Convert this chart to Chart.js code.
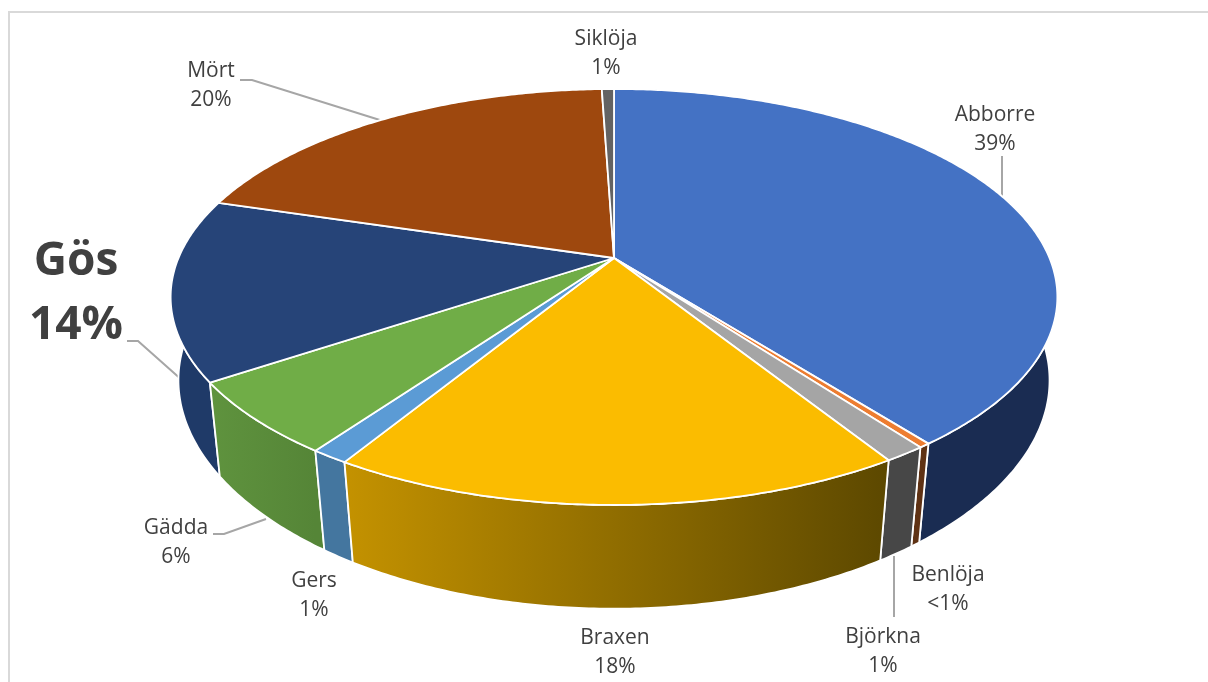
<!DOCTYPE html>
<html>
<head>
<meta charset="utf-8">
<script src="https://cdn.jsdelivr.net/npm/chart.js@4"></script>
<style>
  html, body { margin: 0; padding: 0; background: #fff; }
  #box { position: absolute; left: 8px; top: 11px; width: 1200px; height: 671px; border-left: 2px solid #d9d9d9; border-top: 2px solid #d9d9d9; box-sizing: border-box; }
  canvas { position: absolute; left: 0; top: 0; }
</style>
</head>
<body>
<div id="box"></div>
<canvas id="fishChart" width="1208" height="682"></canvas>
<script>
const categories = ['Abborre', 'Benlöja', 'Björkna', 'Braxen', 'Gers', 'Gädda', 'Gös', 'Mört', 'Siklöja'];
const shares = [39.46, 0.35, 1.3, 17.6, 1.17, 5.75, 14.06, 19.8, 0.53];
const percentLabels = ['39%', '<1%', '1%', '18%', '1%', '6%', '14%', '20%', '1%'];

const topColors = ['#4472c4', '#ed7d31', '#a5a5a5', '#fbbc00', '#5b9bd5', '#70ad47', '#264478', '#9e480e', '#636363'];
const wallLeft = ['#1a2c52', '#5f3214', '#474747', '#c49200', '#44769f', '#5f933e', '#1f3a68', '#5f2b08', '#3b3b3b'];
const wallRight = ['#1a2c52', '#5f3214', '#474747', '#5c4800', '#44769f', '#558537', '#1f3a68', '#5f2b08', '#3b3b3b'];

// label centres, first line y and line height
const labelLayout = [
  [995, 115, 29], [948, 575, 29], [883, 637, 29], [615, 638, 29], [314, 581, 29],
  [176, 528, 29], [76, 262, 64], [211, 71, 29], [606, 39, 29]
];
const leaderLines = [
  [[1002, 156], [1002, 197]],
  [[894, 556], [894, 617]],
  [[127, 341], [138, 341], [183, 381]],
  [[213, 534], [224, 534], [266, 519]],
  [[240, 80], [252, 80], [383, 121]]
];

// perspective of the top face, apex of the slices at cx, cy
const cx = 614, cy = 258, kv = -0.1875, ax = 435.5, ay = 152.3;

function topPoint(a) {
  const u = Math.cos(a), v = Math.sin(a), d = 1 + kv * v;
  return [cx + ax * u / d, (ay * v + cy) / d];
}
function bottomPoint(a) {
  const p = topPoint(a);
  const s = 0.982 - 0.00008 * (p[1] - 300);
  return [cx + s * (p[0] - cx), p[1] + 94 + 0.08 * (p[1] - 383)];
}
function arcPoints(fn, from, to) {
  const pts = [], n = Math.max(2, Math.ceil((to - from) / 0.01));
  for (let i = 0; i <= n; i++) pts.push(fn(from + (to - from) * i / n));
  return pts;
}
function trace(ctx, pts) {
  pts.forEach((p, i) => i ? ctx.lineTo(p[0], p[1]) : ctx.moveTo(p[0], p[1]));
}

const pie3d = {
  id: 'pie3d',
  beforeDatasetsDraw(chart) {
    const ctx = chart.ctx;
    const arcs = chart.getDatasetMeta(0).data;

    ctx.save();
    ctx.strokeStyle = '#a6a6a6';
    ctx.lineWidth = 2;
    leaderLines.forEach(line => {
      ctx.beginPath();
      trace(ctx, line);
      ctx.stroke();
    });

    // side walls, far ones first
    const order = arcs.map((arc, i) => i)
      .sort((a, b) => Math.sin((arcs[a].startAngle + arcs[a].endAngle) / 2) - Math.sin((arcs[b].startAngle + arcs[b].endAngle) / 2));
    order.forEach(i => {
      const arc = arcs[i];
      const upper = arcPoints(topPoint, arc.startAngle, arc.endAngle);
      const lower = arcPoints(bottomPoint, arc.startAngle, arc.endAngle).reverse();
      const xs = upper.map(p => p[0]);
      const grad = ctx.createLinearGradient(Math.min(...xs), 0, Math.max(...xs), 0);
      grad.addColorStop(0, wallLeft[i]);
      grad.addColorStop(1, wallRight[i]);
      ctx.beginPath();
      trace(ctx, upper.concat(lower));
      ctx.closePath();
      ctx.fillStyle = grad;
      ctx.fill();
      ctx.strokeStyle = '#ffffff';
      ctx.lineWidth = 1.8;
      ctx.stroke();
    });

    // top face
    arcs.forEach((arc, i) => {
      ctx.beginPath();
      trace(ctx, [[cx, cy]].concat(arcPoints(topPoint, arc.startAngle, arc.endAngle)));
      ctx.closePath();
      ctx.fillStyle = topColors[i];
      ctx.fill();
      ctx.strokeStyle = '#ffffff';
      ctx.lineWidth = 1.8;
      ctx.lineJoin = 'round';
      ctx.stroke();
    });

    // labels
    ctx.textAlign = 'center';
    ctx.textBaseline = 'middle';
    ctx.fillStyle = '#404040';
    categories.forEach((name, i) => {
      const big = name === 'Gös';
      ctx.font = (big ? 'bold 46px' : '21px') + ' "Open Sans", sans-serif';
      const pos = labelLayout[i];
      ctx.fillText(name, pos[0], pos[1]);
      ctx.fillText(percentLabels[i], pos[0], pos[1] + pos[2]);
    });
    ctx.restore();
    return false;
  }
};

new Chart(document.getElementById('fishChart'), {
  type: 'pie',
  data: {
    labels: categories,
    datasets: [{ data: shares, backgroundColor: topColors }]
  },
  options: {
    responsive: false,
    animation: false,
    devicePixelRatio: 1,
    plugins: { legend: { display: false }, tooltip: { enabled: false } }
  },
  plugins: [pie3d]
});
</script>
</body>
</html>
